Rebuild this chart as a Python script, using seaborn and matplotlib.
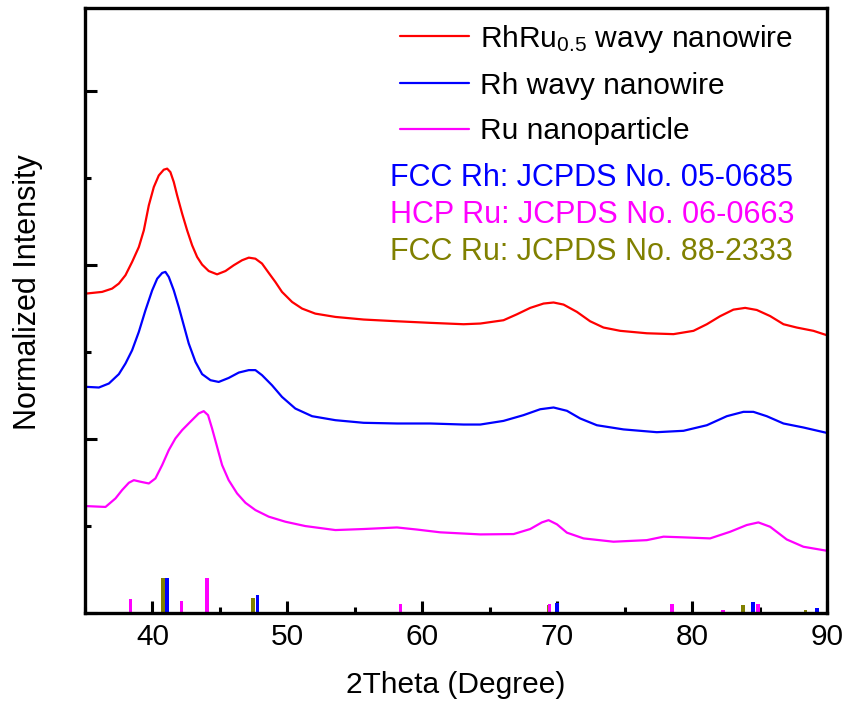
import matplotlib
matplotlib.use("Agg")
import matplotlib.pyplot as plt
import seaborn as sns
from matplotlib.ticker import MultipleLocator

# XRD curves (2theta, normalized intensity)
red_x = [35.04, 36.27, 37.01, 37.51, 38.0, 38.49, 38.99, 39.36, 39.73, 40.1, 40.47, 40.84, 41.09, 41.33,
         41.58, 41.83, 42.2, 42.57, 42.94, 43.31, 43.68, 44.17, 44.79, 45.41, 46.02, 46.64, 47.14, 47.63,
         48.12, 48.62, 49.11, 49.6, 50.35, 51.09, 52.07, 53.56, 55.65, 58.13, 60.59, 63.06, 64.3, 66.02,
         67.01, 68.0, 68.99, 69.73, 70.47, 71.46, 72.44, 73.43, 74.67, 76.64, 78.62, 80.1, 81.09, 82.07,
         83.06, 83.93, 84.79, 85.78, 86.77, 87.75, 88.99, 89.98]
red_y = [1.837, 1.847, 1.866, 1.895, 1.943, 2.019, 2.105, 2.201, 2.345, 2.45, 2.517, 2.55, 2.556, 2.536,
         2.479, 2.402, 2.297, 2.201, 2.115, 2.048, 2.004, 1.967, 1.948, 1.967, 2.0, 2.029, 2.044, 2.038,
         2.01, 1.956, 1.904, 1.847, 1.789, 1.751, 1.722, 1.703, 1.688, 1.678, 1.669, 1.661, 1.665, 1.684,
         1.718, 1.755, 1.78, 1.786, 1.774, 1.732, 1.678, 1.642, 1.623, 1.609, 1.604, 1.623, 1.661, 1.707,
         1.745, 1.755, 1.743, 1.708, 1.661, 1.642, 1.623, 1.598]

blue_x = [35.04, 36.03, 36.77, 37.51, 38.0, 38.49, 38.99, 39.48, 39.98, 40.35, 40.72, 40.96, 41.21, 41.58,
          41.95, 42.32, 42.69, 43.19, 43.68, 44.3, 44.91, 45.65, 46.4, 47.14, 47.63, 48.12, 48.86, 49.6,
          50.59, 51.83, 53.56, 55.65, 58.13, 60.59, 63.06, 64.3, 66.02, 67.5, 68.74, 69.73, 70.72, 71.7,
          72.94, 74.91, 77.38, 79.36, 81.09, 82.57, 83.8, 84.54, 85.53, 86.77, 88.25, 89.98]
blue_y = [1.301, 1.297, 1.32, 1.374, 1.435, 1.511, 1.617, 1.741, 1.856, 1.923, 1.956, 1.962, 1.933, 1.856,
          1.76, 1.655, 1.55, 1.444, 1.374, 1.339, 1.329, 1.352, 1.383, 1.397, 1.397, 1.368, 1.31, 1.243,
          1.176, 1.132, 1.109, 1.094, 1.09, 1.09, 1.084, 1.084, 1.105, 1.138, 1.172, 1.182, 1.163, 1.119,
          1.08, 1.056, 1.04, 1.048, 1.08, 1.132, 1.157, 1.157, 1.132, 1.09, 1.067, 1.036]

pink_x = [35.04, 36.52, 37.26, 37.75, 38.25, 38.62, 39.11, 39.73, 40.22, 40.72, 41.21, 41.7, 42.2, 42.81,
          43.43, 43.8, 44.12, 44.42, 44.79, 45.16, 45.65, 46.27, 46.89, 47.63, 48.62, 49.85, 51.33, 53.56,
          55.65, 58.12, 59.6, 61.33, 64.3, 66.77, 68.0, 68.86, 69.36, 69.98, 70.72, 71.95, 74.17, 76.64,
          77.88, 79.36, 81.33, 82.81, 84.05, 84.91, 85.78, 87.01, 88.25, 89.98]
pink_y = [0.615, 0.61, 0.659, 0.707, 0.749, 0.764, 0.755, 0.745, 0.774, 0.851, 0.937, 1.004, 1.052, 1.10,
          1.148, 1.161, 1.138, 1.061, 0.956, 0.851, 0.764, 0.688, 0.634, 0.592, 0.554, 0.525, 0.50, 0.477,
          0.483, 0.492, 0.48, 0.464, 0.452, 0.454, 0.483, 0.521, 0.534, 0.51, 0.462, 0.429, 0.41, 0.419,
          0.439, 0.435, 0.429, 0.467, 0.506, 0.521, 0.496, 0.423, 0.381, 0.358]

# reference patterns (position, stick height)
rh_pos = [41.06, 47.80, 69.98, 84.50, 89.26]
rh_h = [0.201, 0.101, 0.057, 0.063, 0.029]
hcp_ru_pos = [38.39, 42.15, 44.05, 58.37, 69.43, 78.5, 82.3, 84.87]
hcp_ru_h = [0.080, 0.069, 0.201, 0.052, 0.052, 0.052, 0.017, 0.052]
fcc_ru_pos = [40.79, 47.46, 69.38, 83.76, 88.4]
fcc_ru_h = [0.201, 0.089, 0.046, 0.046, 0.017]

sns.set_style("ticks")
plt.rcParams['font.family'] = ['Liberation Sans', 'DejaVu Sans']
plt.rcParams['mathtext.default'] = 'regular'
plt.rcParams['text.color'] = 'black'
plt.rcParams['axes.labelcolor'] = 'black'
plt.rcParams['xtick.color'] = 'black'
plt.rcParams['ytick.color'] = 'black'

fig = plt.figure(figsize=(8.5, 7.02), dpi=100)
ax = fig.add_axes([0.1, 0.1268, 0.873, 0.8618])

sns.lineplot(x=red_x, y=red_y, color="#ff0000", lw=1.6, label="RhRu$_{0.5}$ wavy nanowire", ax=ax)
sns.lineplot(x=blue_x, y=blue_y, color="#0000ff", lw=1.6, label="Rh wavy nanowire", ax=ax)
sns.lineplot(x=pink_x, y=pink_y, color="#ff00ff", lw=1.6, label="Ru nanoparticle", ax=ax)

ax.bar(fcc_ru_pos, fcc_ru_h, width=0.26, color="#808000", linewidth=0)
ax.bar(hcp_ru_pos, hcp_ru_h, width=0.26, color="#ff00ff", linewidth=0)
ax.bar(rh_pos, rh_h, width=0.26, color="#0000ff", linewidth=0)

ax.set_xlim(35, 90)
ax.set_ylim(0, 3.48)
ax.xaxis.set_major_locator(MultipleLocator(10))
ax.xaxis.set_minor_locator(MultipleLocator(5))
ax.yaxis.set_major_locator(MultipleLocator(1))
ax.yaxis.set_minor_locator(MultipleLocator(0.5))
ax.tick_params(axis='both', which='major', direction='in', length=8.5, width=2.2, labelsize=21.5, pad=7)
ax.tick_params(axis='both', which='minor', direction='in', length=4.5, width=2.2)
ax.tick_params(axis='y', which='both', labelleft=False)
for s in ax.spines.values():
    s.set_linewidth(2.4)
    s.set_color("black")

ax.set_xlabel("2Theta (Degree)", fontsize=21.5)
ax.set_ylabel("Normalized Intensity", fontsize=22)
ax.xaxis.set_label_coords(0.5, -0.096)
ax.yaxis.set_label_coords(-0.056, 0.53)

ax.legend(frameon=False, loc='upper left', bbox_to_anchor=(0.425, 0.976), fontsize=21.5,
          handlelength=2.3, handletextpad=0.35, labelspacing=0.58, borderpad=0, borderaxespad=0)

ax.text(0.411, 0.719, "FCC Rh: JCPDS No. 05-0685", color="#0000ff", fontsize=22,
        transform=ax.transAxes, va='center')
ax.text(0.411, 0.658, "HCP Ru: JCPDS No. 06-0663", color="#ff00ff", fontsize=22,
        transform=ax.transAxes, va='center')
ax.text(0.411, 0.597, "FCC Ru: JCPDS No. 88-2333", color="#808000", fontsize=22,
        transform=ax.transAxes, va='center')

fig.savefig("out.png", dpi=100)
